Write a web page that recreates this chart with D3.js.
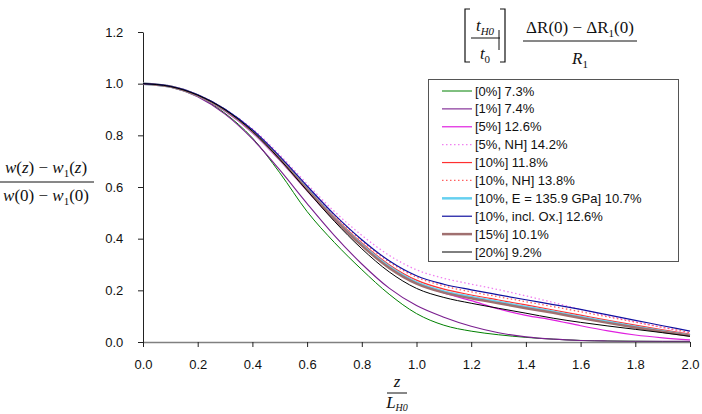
<!DOCTYPE html>
<html><head><meta charset="utf-8">
<script src="https://cdn.jsdelivr.net/npm/d3@7"></script>
<style>
html,body{margin:0;padding:0;background:#fff;}
svg{display:block;}
</style></head>
<body>
<svg id="chart" width="702" height="414"></svg>
<script>
const zValues = [0,0.1,0.2,0.3,0.4,0.5,0.6,0.7,0.8,0.9,1.0,1.1,1.2,1.3,1.4,1.5,1.6,1.7,1.8,1.9,2.0];
const seriesNames = ["[0%] 7.3%","[1%] 7.4%","[5%] 12.6%","[5%, NH] 14.2%","[10%] 11.8%","[10%, NH] 13.8%","[10%, E = 135.9 GPa] 10.7%","[10%, incl. Ox.] 12.6%","[15%] 10.1%","[20%] 9.2%"];
const s0  = [1.0,0.988,0.952,0.885,0.79,0.655,0.505,0.385,0.28,0.185,0.11,0.065,0.042,0.028,0.018,0.011,0.006,0.004,0.003,0.002,0.002];
const s1  = [1.0,0.9875,0.949,0.882,0.786,0.666,0.536,0.412,0.302,0.2085,0.141,0.096,0.061,0.036,0.02,0.011,0.006,0.004,0.003,0.003,0.003];
const s5  = [1.0,0.988,0.952,0.893,0.81,0.703,0.585,0.472,0.373,0.29,0.228,0.19,0.16,0.128,0.103,0.085,0.063,0.043,0.027,0.016,0.008];
const s5nh= [1.0,0.991,0.9575,0.901,0.8255,0.7245,0.612,0.505,0.413,0.3355,0.2795,0.2465,0.224,0.2025,0.1785,0.153,0.126,0.101,0.078,0.056,0.035];
const s10 = [1.0,0.989,0.9555,0.899,0.8175,0.7125,0.596,0.483,0.383,0.2995,0.2395,0.2045,0.182,0.1625,0.1435,0.124,0.104,0.084,0.065,0.047,0.03];
const s10nh=[1.0,0.99,0.956,0.9,0.82,0.717,0.602,0.491,0.392,0.31,0.251,0.217,0.194,0.175,0.156,0.137,0.117,0.097,0.077,0.057,0.036];
const s10e= [1.0,0.989,0.955,0.898,0.816,0.71,0.592,0.478,0.377,0.292,0.231,0.196,0.174,0.155,0.136,0.117,0.097,0.078,0.059,0.042,0.026];
const s10ox=[1.0,0.99,0.957,0.901,0.822,0.7185,0.604,0.493,0.396,0.3145,0.2565,0.2235,0.202,0.1825,0.1635,0.145,0.126,0.105,0.084,0.063,0.042];
const s15 = [1.0,0.989,0.955,0.898,0.816,0.709,0.59,0.476,0.373,0.287,0.226,0.191,0.169,0.15,0.131,0.113,0.093,0.074,0.056,0.04,0.024];
const s20 = [1.0,0.989,0.9555,0.899,0.816,0.7075,0.586,0.467,0.361,0.2715,0.2075,0.1725,0.15,0.1305,0.1115,0.092,0.076,0.062,0.049,0.036,0.022];
const xTicks = [0,0.2,0.4,0.6,0.8,1.0,1.2,1.4,1.6,1.8,2.0];
const yTicks = [0,0.2,0.4,0.6,0.8,1.0,1.2];

const seriesValues = [s0,s1,s5,s5nh,s10,s10nh,s10e,s10ox,s15,s20];
const styles = [
  {c:"#008000",w:1,d:null},
  {c:"#7a1f8f",w:1.1,d:null},
  {c:"#e020e0",w:1.2,d:null},
  {c:"#f080f0",w:1.3,d:"1.5,2.5"},
  {c:"#ff3030",w:1.2,d:null},
  {c:"#ff6060",w:1.3,d:"1.5,2.5"},
  {c:"#66d0f0",w:2.5,d:null},
  {c:"#1010a0",w:1.2,d:null},
  {c:"#a07070",w:2.5,d:null},
  {c:"#000000",w:1,d:null}
];

const svg = d3.select("#chart");
const x = d3.scaleLinear().domain([0,2]).range([143,690]);
const y = d3.scaleLinear().domain([0,1.2]).range([342,32]);

const xAxis = svg.append("g").attr("transform","translate(0,342)")
  .call(d3.axisBottom(x).tickValues(xTicks).tickFormat(d3.format(".1f")).tickSize(5).tickSizeOuter(0));
const yAxis = svg.append("g").attr("transform","translate(143,0)")
  .call(d3.axisLeft(y).tickValues(yTicks).tickFormat(d3.format(".1f")).tickSize(5).tickSizeOuter(0));
[xAxis,yAxis].forEach(g=>{
  g.selectAll("text").attr("font-family","Liberation Sans, Arial, sans-serif").attr("font-size","13px").attr("fill","#111");
  g.selectAll("line").attr("stroke","#222");
});
xAxis.select(".domain").attr("stroke","#808080").attr("stroke-width",1.3);
yAxis.select(".domain").attr("stroke","#222");
xAxis.selectAll("text").attr("dy","1.45em");
yAxis.selectAll("text").attr("dx","-0.9em");

const line = d3.line().x((d,i)=>x(zValues[i])).y(d=>y(d)).curve(d3.curveMonotoneX);
const plotOrder = [0,1,2,3,4,5,6,8,7,9];
plotOrder.forEach(k=>{
  const s = styles[k];
  svg.append("path").datum(seriesValues[k]).attr("d",line)
    .attr("fill","none").attr("stroke",s.c).attr("stroke-width",s.w)
    .attr("stroke-dasharray",s.d);
});

const lg = svg.append("g");
lg.append("rect").attr("x",428.5).attr("y",79.5).attr("width",250).attr("height",182)
  .attr("fill","#fff").attr("stroke","#555").attr("stroke-width",1);
const rowY = d3.scaleLinear().domain([0,9]).range([91,252]);
seriesNames.forEach((n,i)=>{
  const s = styles[i];
  lg.append("line").attr("x1",442).attr("x2",472).attr("y1",rowY(i)).attr("y2",rowY(i))
    .attr("stroke",s.c).attr("stroke-width",s.w).attr("stroke-dasharray",s.d);
  lg.append("text").attr("x",475).attr("y",rowY(i)).attr("dy","0.35em")
    .attr("font-family","Liberation Sans, Arial, sans-serif").attr("font-size","13px").attr("fill","#111").text(n);
});

const serif = "Liberation Serif, Times New Roman, serif";
function mtext(g,xp,yp,parts,anchor){
  const t = g.append("text").attr("x",xp).attr("y",yp).attr("font-family",serif).attr("font-size","17px")
    .attr("text-anchor",anchor||"middle").attr("fill","#111");
  parts.forEach(p=>{
    const ts = t.append("tspan").text(p.t);
    if(p.i) ts.attr("font-style","italic");
    if(p.sub) ts.attr("font-size","11px").attr("dy","4");
    if(p.up) ts.attr("dy","-4");
  });
  return t;
}
const topG = svg.append("g");
topG.append("path").attr("d","M470,9 H465 V62 H470 M500,9 H505 V62 H500").attr("fill","none").attr("stroke","#111").attr("stroke-width",1.2);
topG.append("line").attr("x1",471).attr("x2",500).attr("y1",38).attr("y2",38).attr("stroke","#111");
topG.append("line").attr("x1",499).attr("x2",499).attr("y1",30).attr("y2",50).attr("stroke","#111");
mtext(topG,485,31,[{t:"t",i:1},{t:"H0",i:1,sub:1}]);
mtext(topG,485,59,[{t:"t",i:1},{t:"0",sub:1}]);
topG.append("line").attr("x1",523).attr("x2",637).attr("y1",41).attr("y2",41).attr("stroke","#111");
mtext(topG,580,33,[{t:"ΔR",i:0},{t:"(0) − ΔR"},{t:"1",sub:1},{t:"(0)",up:1}]);
mtext(topG,580,64,[{t:"R",i:1},{t:"1",sub:1}]);

const yl = svg.append("g");
yl.append("line").attr("x1",0).attr("x2",94).attr("y1",182).attr("y2",182).attr("stroke","#111");
mtext(yl,46,173,[{t:"w",i:1},{t:"("},{t:"z",i:1},{t:") − "},{t:"w",i:1},{t:"1",sub:1},{t:"(",up:1},{t:"z",i:1},{t:")"}]);
mtext(yl,46,201,[{t:"w",i:1},{t:"(0) − "},{t:"w",i:1},{t:"1",sub:1},{t:"(0)",up:1}]);

const xl = svg.append("g");
xl.append("line").attr("x1",387).attr("x2",407).attr("y1",393).attr("y2",393).attr("stroke","#111");
mtext(xl,397,387,[{t:"z",i:1}]);
const lt = mtext(xl,397,408,[{t:"L",i:1},{t:"H0",i:1,sub:1}]);
lt.selectAll("tspan").filter((d,i)=>i===1).attr("font-size","10px").attr("dy","3");
</script>
</body></html>
